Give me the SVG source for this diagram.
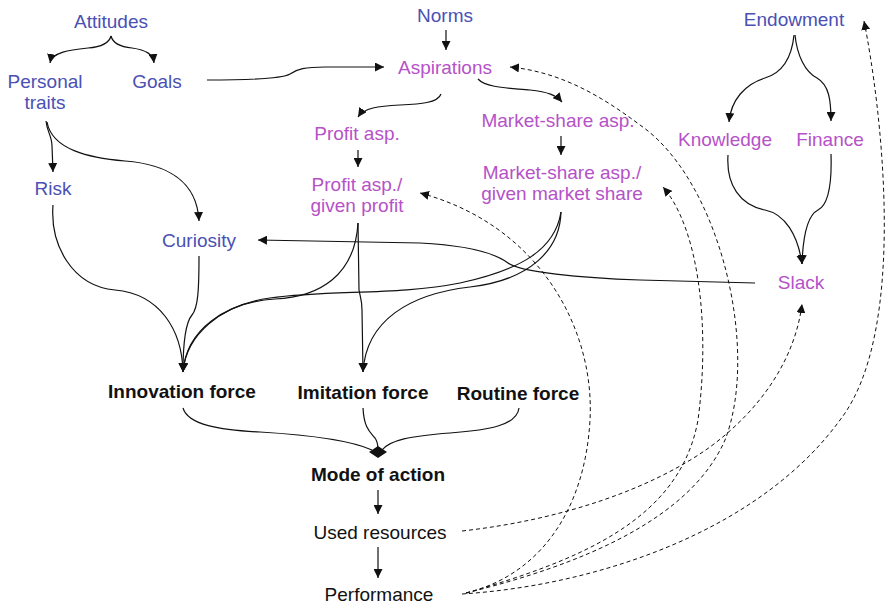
<svg xmlns="http://www.w3.org/2000/svg" width="885" height="607" viewBox="0 0 885 607">
  <style>
    text { font-family: "Liberation Sans", Arial, Helvetica, sans-serif; font-size: 19px; text-anchor: middle; }
    .blue { fill: #4a50b4; }
    .purple { fill: #b552c8; }
    .black { fill: #111; }
    .bold { font-weight: bold; fill: #111; }
    .link { fill: none; stroke: #111; stroke-width: 1.2; }
    .dash { fill: none; stroke: #111; stroke-width: 1; stroke-dasharray: 4 3; }
  </style>
  <defs>
    <marker id="ah" viewBox="0 0 10 10" refX="10" refY="5" markerWidth="9" markerHeight="9" markerUnits="userSpaceOnUse" orient="auto">
      <path d="M0,0 L10,5 L0,10 z" fill="#111" stroke="none"/>
    </marker>
  </defs>
  <rect width="885" height="607" fill="#fff"/>

  <!-- nodes -->
  <g id="attitudes"><text class="blue" x="111" y="28">Attitudes</text></g>
  <g id="personal-traits"><text class="blue" x="45" y="88">Personal</text><text class="blue" x="45" y="109">traits</text></g>
  <g id="goals"><text class="blue" x="157" y="88">Goals</text></g>
  <g id="risk"><text class="blue" x="53" y="195">Risk</text></g>
  <g id="curiosity"><text class="blue" x="199" y="247">Curiosity</text></g>
  <g id="norms"><text class="blue" x="445" y="22">Norms</text></g>
  <g id="aspirations"><text class="purple" x="445" y="74">Aspirations</text></g>
  <g id="profit-asp"><text class="purple" x="357" y="140">Profit asp.</text></g>
  <g id="profit-asp-given"><text class="purple" x="357" y="191">Profit asp./</text><text class="purple" x="357" y="212">given profit</text></g>
  <g id="ms-asp"><text class="purple" x="558" y="127">Market-share asp.</text></g>
  <g id="ms-asp-given"><text class="purple" x="562" y="179">Market-share asp./</text><text class="purple" x="562" y="200">given market share</text></g>
  <g id="endowment"><text class="blue" x="794" y="26">Endowment</text></g>
  <g id="knowledge"><text class="purple" x="725" y="146">Knowledge</text></g>
  <g id="finance"><text class="purple" x="830" y="146">Finance</text></g>
  <g id="slack"><text class="purple" x="801" y="289">Slack</text></g>
  <g id="innovation-force"><text class="bold" x="182" y="398">Innovation force</text></g>
  <g id="imitation-force"><text class="bold" x="363" y="399">Imitation force</text></g>
  <g id="routine-force"><text class="bold" x="518" y="400">Routine force</text></g>
  <g id="mode-of-action"><text class="bold" x="378" y="481">Mode of action</text></g>
  <g id="used-resources"><text class="black" x="380" y="539">Used resources</text></g>
  <g id="performance"><text class="black" x="379" y="601">Performance</text></g>

  <!-- connectors -->
  <g id="connectors">
    <path class="link" marker-end="url(#ah)" d="M111,36 C109,44 100,47 88,48 C70,50 52,52 50,63"/>
    <path class="link" marker-end="url(#ah)" d="M111,36 C113,44 122,47 132,48 C146,50 153,54 154,63"/>
    <path class="link" marker-end="url(#ah)" d="M207,80 C240,80 282,79 290,74 C297,69 305,67 325,67 L384,67"/>
    <path class="link" marker-end="url(#ah)" d="M446,30 L446,50"/>
    <path class="link" marker-end="url(#ah)" d="M441,94 C438,103 420,104 400,105 C378,106 364,108 358,117"/>
    <path class="link" marker-end="url(#ah)" d="M478,79 C486,88 510,88 530,90 C548,92 556,95 562,102"/>
    <path class="link" marker-end="url(#ah)" d="M358,150 L358,167"/>
    <path class="link" marker-end="url(#ah)" d="M561,136 L561,155"/>
    <path class="link" marker-end="url(#ah)" d="M46,121 C47,132 52,136 52,146 L53,172"/>
    <path class="link" marker-end="url(#ah)" d="M47,122 C52,150 90,158 125,161 C165,164 197,180 199,221"/>
    <path class="link" marker-end="url(#ah)" d="M53,205 C50,245 72,286 115,290 C160,294 182,330 183,372"/>
    <path class="link" marker-end="url(#ah)" d="M199,256 C199,290 198,308 192,315 C186,322 183,345 183,372"/>
    <path class="link" marker-end="url(#ah)" d="M358,223 C355,275 320,297 275,299 C225,302 186,330 183,372"/>
    <path class="link" marker-end="url(#ah)" d="M358,223 L359,290 C360,296 362,300 362,310 L363,372"/>
    <path class="link" marker-end="url(#ah)" d="M561,212 C555,250 520,270 460,283 C400,295 330,290 270,298 C220,305 186,335 183,372"/>
    <path class="link" marker-end="url(#ah)" d="M561,212 C560,250 530,280 470,287 C410,294 366,320 363,372"/>
    <path class="link" marker-end="url(#ah)" d="M755,283 L640,280 C580,278 520,272 508,263 C500,257 480,246 420,243 L258,240"/>
    <path class="link" marker-end="url(#ah)" d="M794,35 C792,55 785,72 765,78 C745,84 731,100 729,122"/>
    <path class="link" marker-end="url(#ah)" d="M795,35 C797,55 805,72 817,78 C829,85 831,100 831,121"/>
    <path class="link" marker-end="url(#ah)" d="M728,155 C726,185 740,205 765,210 C785,214 798,235 802,264"/>
    <path class="link" marker-end="url(#ah)" d="M831,154 C832,185 828,205 818,210 C808,215 803,235 802,264"/>
    <path class="link" d="M183,408 C188,425 220,430 260,432 C310,435 350,440 372,450"/>
    <path class="link" d="M363,408 C364,428 370,432 375,438 C378,442 378,446 378,450"/>
    <path class="link" d="M519,408 C517,425 490,430 450,433 C410,436 390,440 382,450"/>
    <polygon points="369,452 378,446 387,452 378,458" fill="#111"/>
    <path class="link" marker-end="url(#ah)" d="M378,490 L378,514"/>
    <path class="link" marker-end="url(#ah)" d="M378,547 L378,578"/>

    <path class="dash" marker-end="url(#ah)" d="M462,531 C560,520 650,490 710,447 C760,410 795,360 802,304"/>
    <path class="dash" marker-end="url(#ah)" d="M466,593 C540,575 585,510 590,420 C595,330 540,225 420,193"/>
    <path class="dash" marker-end="url(#ah)" d="M466,593 C580,560 680,520 698,420 C710,330 700,230 663,187"/>
    <path class="dash" marker-end="url(#ah)" d="M466,593 C580,565 690,520 725,440 C760,350 720,180 640,125 C600,95 560,72 510,67"/>
    <path class="dash" marker-end="url(#ah)" d="M462,594 C600,585 760,530 840,420 C910,330 880,100 864,21"/>
  </g>
</svg>
